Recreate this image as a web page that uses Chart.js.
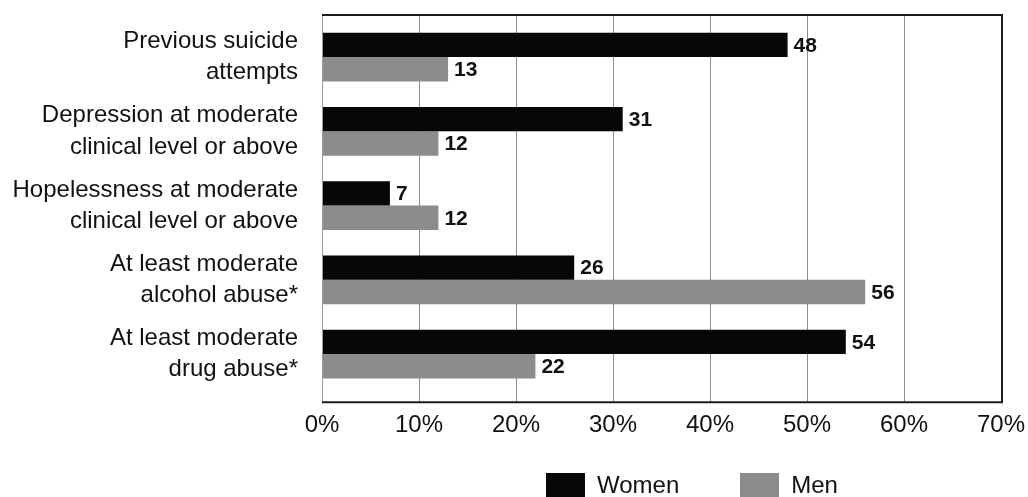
<!DOCTYPE html>
<html>
<head>
<meta charset="utf-8">
<script src="https://cdn.jsdelivr.net/npm/chart.js@4.4.1/dist/chart.umd.min.js"></script>
<style>
  html, body { margin: 0; padding: 0; background: #fff; overflow: hidden; }
  #wrap { position: relative; width: 1028px; height: 497px; }
  #legend { position: absolute; left: 546px; top: 473px; display: flex;
            font: 24px "Liberation Sans", Arial, sans-serif; color: #111; line-height: 24px; }
  #legend .item { display: flex; align-items: center; margin-right: 61px; }
  #legend .box { width: 39px; height: 24px; margin-right: 12px; }
</style>
</head>
<body>
<div id="wrap">
  <canvas id="c" width="1028" height="497"></canvas>
  <div id="legend"></div>
</div>
<script>
// Risk factors, two-line category labels
const categories = [
  ["Previous suicide", "attempts"],
  ["Depression at moderate", "clinical level or above"],
  ["Hopelessness at moderate", "clinical level or above"],
  ["At least moderate", "alcohol abuse*"],
  ["At least moderate", "drug abuse*"]
];
const seriesNames = ["Women", "Men"];
const women = [48, 31, 7, 26, 54];
const men = [13, 12, 12, 56, 22];
const xTicks = [0, 10, 20, 30, 40, 50, 60, 70];

const FONT = '"Liberation Sans", Arial, sans-serif';
const TEXT = '#111';
const GRID = '#8e8e8e';

// Box round the plot, spanning the tick-mark extensions above and below
const framePlugin = {
  id: 'frame',
  afterDatasetsDraw(chart) {
    const { ctx, chartArea: { left, right }, scales: { x, xTop } } = chart;
    const top = xTop.top;
    const bottom = x.top + x.options.grid.tickLength;
    ctx.save();
    ctx.lineWidth = 1;
    ctx.strokeStyle = '#9a9a9a';
    ctx.beginPath();
    ctx.moveTo(left + 0.5, top);
    ctx.lineTo(left + 0.5, bottom);
    ctx.stroke();
    ctx.lineWidth = 2;
    ctx.strokeStyle = '#1c1c1c';
    ctx.beginPath();
    ctx.moveTo(left, top + 1);
    ctx.lineTo(right + 1, top + 1);
    ctx.lineTo(right + 1, bottom);
    ctx.lineTo(left, bottom);
    ctx.stroke();
    ctx.restore();
  }
};

// Value printed just past the end of each bar
const valueLabels = {
  id: 'valueLabels',
  afterDatasetsDraw(chart) {
    const { ctx } = chart;
    ctx.save();
    ctx.font = 'bold 21px "Liberation Sans Narrow", "Liberation Sans", Arial, sans-serif';
    ctx.fillStyle = TEXT;
    ctx.textAlign = 'left';
    ctx.textBaseline = 'middle';
    chart.data.datasets.forEach((ds, di) => {
      chart.getDatasetMeta(di).data.forEach((bar, i) => {
        ctx.fillText(String(ds.data[i]), bar.x + 6, bar.y + 1);
      });
    });
    ctx.restore();
  }
};

const chart = new Chart(document.getElementById('c'), {
  type: 'bar',
  data: {
    labels: categories,
    datasets: [
      { label: seriesNames[0], data: women, backgroundColor: '#070707' },
      { label: seriesNames[1], data: men, backgroundColor: '#8c8c8c' }
    ]
  },
  options: {
    indexAxis: 'y',
    responsive: false,
    animation: false,
    devicePixelRatio: 1,
    layout: { padding: { top: 14, right: 27, bottom: 48, left: 0 } },
    datasets: { bar: { categoryPercentage: 0.655, barPercentage: 1.0 } },
    plugins: {
      legend: { display: false },
      tooltip: { enabled: false }
    },
    scales: {
      y: {
        type: 'category',
        grid: { display: false, drawTicks: false },
        border: { display: false },
        ticks: {
          padding: 24,
          color: TEXT,
          font: { family: FONT, size: 24, lineHeight: 1.3 }
        },
        afterFit(scale) {
          scale.width = 322;
          scale.paddingTop = 0;
          scale.paddingBottom = 0;
        }
      },
      x: {
        type: 'linear',
        position: 'bottom',
        min: 0,
        max: 70,
        grid: { color: GRID, lineWidth: 1, drawTicks: true, tickLength: 11 },
        border: { display: false },
        afterBuildTicks(scale) { scale.ticks = xTicks.map(v => ({ value: v })); },
        afterFit(scale) { scale.paddingLeft = 0; scale.paddingRight = 0; },
        ticks: {
          padding: 9,
          color: TEXT,
          maxRotation: 0,
          font: { family: FONT, size: 24 },
          callback: v => v + '%'
        }
      },
      xTop: {
        type: 'linear',
        position: 'top',
        min: 0,
        max: 70,
        grid: { color: GRID, lineWidth: 1, drawOnChartArea: false, drawTicks: true, tickLength: 6 },
        border: { display: false },
        afterBuildTicks(scale) { scale.ticks = xTicks.map(v => ({ value: v })); },
        afterFit(scale) { scale.paddingLeft = 0; scale.paddingRight = 0; },
        ticks: { display: false }
      }
    }
  },
  plugins: [framePlugin, valueLabels]
});

// Legend built from the chart's own legend items
const legendEl = document.getElementById('legend');
Chart.defaults.plugins.legend.labels.generateLabels(chart).forEach(item => {
  const el = document.createElement('div');
  el.className = 'item';
  const box = document.createElement('span');
  box.className = 'box';
  box.style.background = item.fillStyle;
  const txt = document.createElement('span');
  txt.textContent = item.text;
  el.appendChild(box);
  el.appendChild(txt);
  legendEl.appendChild(el);
});
</script>
</body>
</html>
